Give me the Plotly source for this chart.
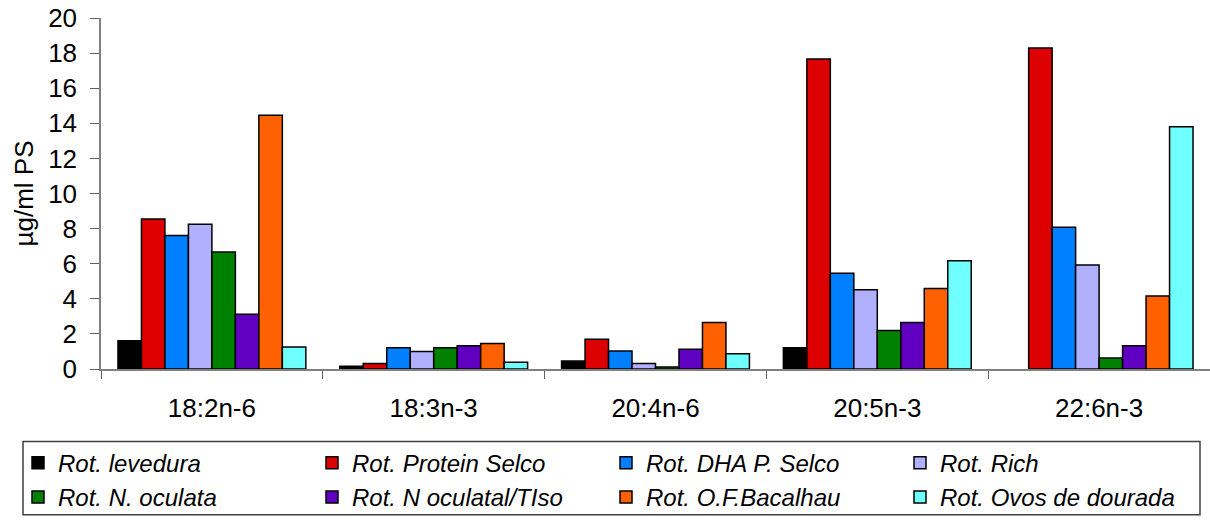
import plotly.graph_objects as go

categories = ["18:2n-6", "18:3n-3", "20:4n-6", "20:5n-3", "22:6n-3"]
series_names = ["Rot. levedura", "Rot. Protein Selco", "Rot. DHA P. Selco", "Rot. Rich",
                "Rot. N. oculata", "Rot. N oculatal/TIso", "Rot. O.F.Bacalhau", "Rot. Ovos de dourada"]
levedura = [1.61, 0.15, 0.45, 1.21, None]
protein_selco = [8.55, 0.32, 1.70, 17.66, 18.29]
dha_selco = [7.60, 1.21, 1.02, 5.45, 8.08]
rich = [8.25, 1.00, 0.32, 4.52, 5.92]
n_oculata = [6.66, 1.21, 0.11, 2.20, 0.62]
n_oculata_tiso = [3.12, 1.33, 1.13, 2.65, 1.33]
of_bacalhau = [14.46, 1.46, 2.65, 4.58, 4.16]
ovos_dourada = [1.25, 0.38, 0.87, 6.17, 13.80]
y_ticks = [0, 2, 4, 6, 8, 10, 12, 14, 16, 18, 20]

values = [levedura, protein_selco, dha_selco, rich, n_oculata, n_oculata_tiso, of_bacalhau, ovos_dourada]
colors = ["#000000", "#DD0000", "#0080FF", "#B0B0FF", "#008000", "#6000C0", "#FF6000", "#70FFFF"]

fig = go.Figure()
for i, (name, vals, col) in enumerate(zip(series_names, values, colors)):
    fig.add_trace(go.Bar(
        x=categories, y=vals, name=name,
        marker=dict(color=col, line=dict(color="#000000", width=1.5)),
        legend="legend" if i < 4 else "legend2",
    ))

font_main = dict(family="Liberation Sans, Arial, sans-serif", color="#000000")
leg_font = dict(family="Liberation Sans, Arial, sans-serif", size=24, color="#000000", style="italic")

fig.update_layout(
    width=1210, height=520,
    margin=dict(l=101, r=0, t=18, b=148),
    paper_bgcolor="white", plot_bgcolor="white",
    barmode="group", bargap=0.153, bargroupgap=0,
    font=font_main,
    xaxis=dict(showline=True, linecolor="#808080", linewidth=1.5, ticks="outside",
               tickson="boundaries", ticklen=8, tickcolor="#606060",
               tickfont=dict(size=26), ticklabelstandoff=15, showgrid=False, automargin=False),
    yaxis=dict(range=[0, 20], tickvals=y_ticks, showline=True, linecolor="#808080", linewidth=1.5,
               ticks="outside", ticklen=9, tickcolor="#606060", tickfont=dict(size=26),
               ticklabelstandoff=8, showgrid=False, zeroline=False, automargin=False,
               title=dict(text="µg/ml PS", font=dict(size=26), standoff=7)),
    legend=dict(orientation="h", x=-0.07484, xanchor="left", y=-0.2684, yanchor="middle",
                entrywidth=249, entrywidthmode="pixels", font=leg_font,
                bgcolor="rgba(0,0,0,0)", borderwidth=0),
    legend2=dict(orientation="h", x=-0.07484, xanchor="left", y=-0.3672, yanchor="middle",
                 entrywidth=249, entrywidthmode="pixels", font=leg_font,
                 bgcolor="rgba(0,0,0,0)", borderwidth=0),
    shapes=[dict(type="rect", xref="paper", yref="paper",
                 x0=-0.07033, x1=0.99098, y0=-0.41525, y1=-0.20621,
                 line=dict(color="#404040", width=1.5), fillcolor="rgba(0,0,0,0)")],
)

fig.write_html("out.html", config={"displayModeBar": False},
               post_script="document.body.style.margin='0';document.body.style.overflow='hidden';")
